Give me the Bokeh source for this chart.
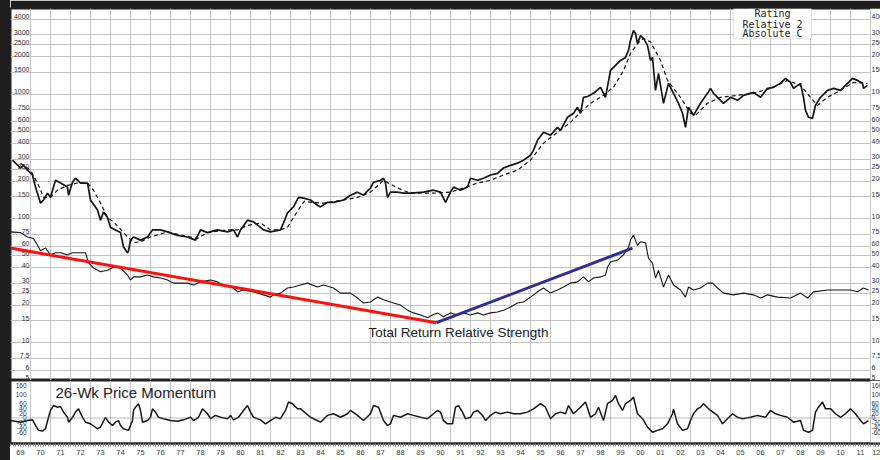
from bokeh.plotting import figure
from bokeh.layouts import column, row
from bokeh.models import ColumnDataSource, FixedTicker, Grid, Span, Range1d, BoxAnnotation, Label, Div
from bokeh.core.properties import value
from bokeh.embed import file_html
from bokeh.resources import INLINE

FONT = "Liberation Sans"
MONO = "DejaVu Sans Mono"

# ---------------- data ----------------
price_year = [1969.1, 1969.5, 1969.65, 1969.85, 1970.1, 1970.25, 1970.5, 1970.65, 1970.85, 1971.0,
              1971.25, 1971.5, 1971.85, 1971.9, 1972.1, 1972.25, 1972.5, 1972.85, 1973.0, 1973.35,
              1973.5, 1973.65, 1973.85, 1974.0, 1974.25, 1974.5, 1974.65, 1974.85, 1974.9, 1975.0,
              1975.15, 1975.5, 1975.85, 1976.1, 1976.5, 1976.85, 1977.35, 1977.85, 1978.25, 1978.5,
              1978.85, 1979.35, 1979.85, 1980.15, 1980.35, 1980.5, 1980.85, 1981.15, 1981.65, 1982.0,
              1982.5, 1982.65, 1982.85, 1983.15, 1983.4, 1983.65, 1984.0, 1984.35, 1984.5, 1984.85,
              1985.15, 1985.65, 1986.0, 1986.35, 1986.65, 1987.0, 1987.15, 1987.5, 1987.65, 1987.75,
              1987.85, 1988.0, 1988.35, 1988.65, 1989.0, 1989.65, 1990.15, 1990.5, 1990.75, 1991.0,
              1991.15, 1991.5, 1991.85, 1992.0, 1992.35, 1992.65, 1993.0, 1993.35, 1993.65, 1994.0,
              1994.35, 1994.65, 1995.0, 1995.15, 1995.35, 1995.65, 1996.0, 1996.35, 1996.5, 1996.85,
              1997.15, 1997.35, 1997.5, 1997.65, 1997.85, 1998.15, 1998.5, 1998.75, 1999.0, 1999.15,
              1999.5, 1999.75, 1999.9, 2000.0, 2000.15, 2000.25, 2000.35, 2000.5, 2000.65, 2000.85,
              2001.0, 2001.1, 2001.25, 2001.4, 2001.65, 2001.9, 2002.15, 2002.4, 2002.6, 2002.75,
              2002.9, 2003.15, 2003.5, 2003.85, 2004.0, 2004.15, 2004.5, 2004.65, 2005.0, 2005.35,
              2005.65, 2006.15, 2006.5, 2006.85, 2007.15, 2007.5, 2007.75, 2008.0, 2008.15, 2008.5,
              2008.65, 2008.75, 2008.9, 2009.1, 2009.25, 2009.5, 2009.85, 2010.15, 2010.5, 2010.85,
              2011.1, 2011.35, 2011.6, 2011.65, 2011.85]
price_val = [295, 255, 268, 245, 224, 179, 133, 141, 160, 148,
             203, 193, 179, 154, 196, 211, 193, 193, 141, 117,
             97, 113, 102, 85, 81, 77, 59, 53, 55, 67,
             71, 67, 71, 81, 81, 78, 73, 71, 67, 81,
             77, 81, 78, 81, 71, 81, 97, 94, 81, 78,
             81, 92, 111, 124, 148, 146, 141, 128, 124, 135,
             135, 141, 154, 163, 154, 176, 196, 203, 211, 193,
             148, 163, 163, 160, 160, 163, 169, 163, 135, 163,
             179, 169, 179, 211, 203, 211, 224, 231, 255, 268,
             279, 295, 323, 355, 426, 494, 468, 542, 513, 653,
             703, 785, 703, 945, 959, 1017, 1136, 945, 1556, 1645,
             1872, 1979, 2252, 2709, 3260, 3085, 2563, 2971, 2813, 2471,
             1872, 1979, 1075, 1472, 846, 1224, 1017, 846, 703, 542,
             785, 677, 846, 1017, 1115, 1017, 894, 846, 945, 894,
             980, 1035, 945, 1115, 1136, 1224, 1342, 1246, 1115, 1224,
             945, 742, 653, 640, 815, 945, 1075, 1115, 1075, 1224,
             1342, 1293, 1224, 1115, 1179]

ma_year = [1969.5, 1970.0, 1970.35, 1970.65, 1971.0, 1971.35, 1971.85, 1972.35, 1972.85, 1973.15,
           1973.5, 1973.85, 1974.15, 1974.65, 1975.15, 1975.5, 1976.0, 1976.85, 1977.65, 1978.35,
           1978.85, 1979.85, 1980.35, 1980.85, 1981.5, 1982.0, 1982.5, 1982.85, 1983.15, 1983.45,
           1983.7, 1984.0, 1984.65, 1985.65, 1986.35, 1987.0, 1987.65, 1988.35, 1989.0, 1990.15,
           1991.0, 1991.65, 1992.35, 1993.0, 1993.65, 1994.35, 1995.0, 1995.65, 1996.35, 1997.0,
           1997.5, 1998.0, 1998.5, 1999.15, 1999.65, 2000.0, 2000.35, 2000.65, 2001.0, 2001.5,
           2001.85, 2002.5, 2003.0, 2003.25, 2003.85, 2004.5, 2005.35, 2006.15, 2007.0, 2007.85,
           2008.5, 2009.0, 2009.35, 2009.85, 2010.5, 2011.15, 2011.85]
ma_val = [279, 245, 193, 148, 148, 169, 185, 193, 193, 169,
          133, 102, 94, 77, 64, 65, 71, 78, 73, 69,
          77, 81, 81, 88, 92, 81, 81, 85, 102, 121,
          138, 135, 133, 141, 148, 163, 203, 176, 160, 160,
          163, 176, 193, 203, 224, 245, 295, 404, 494, 594,
          714, 846, 945, 1136, 1556, 2131, 2563, 2813, 2641, 1872,
          1293, 945, 703, 677, 846, 945, 980, 1017, 1115, 1293,
          1179, 945, 815, 945, 1075, 1246, 1224]

rs_year = [1969.0, 1969.5, 1969.85, 1970.15, 1970.35, 1970.5, 1970.75, 1971.0, 1971.25, 1971.5,
           1971.85, 1972.1, 1972.35, 1972.75, 1972.9, 1973.15, 1973.5, 1973.85, 1974.15, 1974.5,
           1974.85, 1975.0, 1975.15, 1975.5, 1975.85, 1976.15, 1976.5, 1976.85, 1977.15, 1977.5,
           1977.85, 1978.15, 1978.5, 1979.0, 1979.35, 1979.65, 1980.15, 1980.35, 1980.65, 1981.15,
           1981.65, 1982.0, 1982.15, 1982.5, 1982.85, 1983.15, 1983.5, 1983.85, 1984.35, 1984.65,
           1985.15, 1985.5, 1986.0, 1986.35, 1986.65, 1987.0, 1987.35, 1987.65, 1988.15, 1988.5,
           1988.85, 1989.15, 1989.5, 1989.85, 1990.1, 1990.35, 1990.65, 1991.0, 1991.35, 1991.65,
           1992.0, 1992.35, 1992.65, 1993.0, 1993.35, 1993.65, 1994.0, 1994.35, 1994.65, 1995.0,
           1995.35, 1995.65, 1996.0, 1996.35, 1996.65, 1997.0, 1997.35, 1997.65, 1997.9, 1998.15,
           1998.5, 1998.75, 1998.85, 1999.0, 1999.35, 1999.65, 1999.9, 2000.0, 2000.15, 2000.35,
           2000.5, 2000.75, 2000.9, 2001.1, 2001.25, 2001.4, 2001.65, 2001.9, 2002.15, 2002.5,
           2002.75, 2002.9, 2003.15, 2003.5, 2003.85, 2004.1, 2004.35, 2004.65, 2005.15, 2005.65,
           2006.15, 2006.5, 2006.85, 2007.35, 2008.0, 2008.5, 2008.85, 2009.15, 2009.85, 2010.5,
           2011.0, 2011.35, 2011.65, 2011.9]
rs_val = [78, 77, 71, 69, 61, 55, 58, 51, 53, 53,
          51, 53, 53, 53, 44, 40, 37.3, 38.3, 40.5, 40,
          35.1, 32, 33.9, 33.9, 35.1, 33.9, 33.2, 32, 30.2, 30.2,
          30.2, 29.2, 30.9, 32, 30.9, 29.2, 27.6, 25.7, 26.6, 25.7,
          24.3, 23.3, 24.3, 25.1, 27.6, 28.1, 29.2, 30.2, 28.1, 29.2,
          27.6, 25.1, 25.1, 22.9, 20.9, 21.3, 23.3, 22.2, 20.9, 20.1,
          18.3, 17.4, 16.7, 15.9, 16.7, 17.4, 16.2, 17.4, 16.7, 17.4,
          16.7, 17.4, 16.7, 17.4, 17.7, 18.3, 19.4, 20.9, 21.3, 23.3,
          25.7, 27.6, 25.1, 26.6, 28.1, 30.2, 30.9, 33.9, 30.9, 33.2,
          33.9, 35.1, 40.5, 44.7, 46.3, 51.1, 58.6, 67.1, 73.5, 60.7,
          65, 63.9, 47.9, 43.7, 33.2, 38.3, 28.1, 35.1, 29.2, 26.6,
          23.3, 28.1, 26.6, 27.6, 30.2, 30.2, 27.6, 25.1, 24.3, 25.1,
          24.3, 22.9, 24.3, 23.3, 22.9, 25.1, 22.9, 25.7, 26.6, 26.6,
          26.6, 25.7, 27.6, 26.6]

trend_down_year = [1969.0, 1990.3]
trend_down_val = [57.8, 14.5]
trend_up_year = [1990.3, 2000.1]
trend_up_val = [14.5, 57.8]

mom_year = [1969.0, 1969.5, 1969.85, 1970.1, 1970.25, 1970.4, 1970.6, 1970.75, 1970.9, 1971.0,
            1971.15, 1971.35, 1971.5, 1971.65, 1971.85, 1971.9, 1972.1, 1972.25, 1972.4, 1972.6,
            1972.75, 1973.0, 1973.35, 1973.5, 1973.75, 1973.9, 1974.1, 1974.25, 1974.4, 1974.5,
            1974.65, 1974.9, 1975.1, 1975.15, 1975.25, 1975.4, 1975.5, 1975.6, 1975.85, 1976.0,
            1976.1, 1976.25, 1976.4, 1976.65, 1977.0, 1977.35, 1977.65, 1978.0, 1978.15, 1978.4,
            1978.6, 1978.85, 1979.0, 1979.25, 1979.5, 1979.85, 1980.0, 1980.15, 1980.4, 1980.65,
            1980.85, 1981.0, 1981.15, 1981.5, 1981.75, 1982.0, 1982.25, 1982.5, 1982.75, 1982.9,
            1983.1, 1983.35, 1983.5, 1984.0, 1984.5, 1984.85, 1985.15, 1985.5, 1985.85, 1986.0,
            1986.35, 1986.65, 1987.0, 1987.15, 1987.4, 1987.65, 1987.85, 1988.0, 1988.15, 1988.5,
            1988.85, 1989.15, 1989.5, 1989.85, 1990.15, 1990.35, 1990.5, 1990.65, 1990.85, 1991.1,
            1991.25, 1991.4, 1991.6, 1991.75, 1992.0, 1992.15, 1992.35, 1992.6, 1992.75, 1993.0,
            1993.25, 1993.5, 1993.85, 1994.15, 1994.5, 1994.85, 1995.15, 1995.5, 1995.75, 1996.0,
            1996.25, 1996.5, 1996.75, 1996.9, 1997.15, 1997.5, 1997.75, 1998.0, 1998.25, 1998.4,
            1998.65, 1998.85, 1999.1, 1999.25, 1999.4, 1999.6, 1999.75, 2000.0, 2000.15, 2000.35,
            2000.6, 2000.85, 2001.1, 2001.35, 2001.6, 2001.85, 2002.1, 2002.15, 2002.35, 2002.6,
            2002.85, 2003.0, 2003.15, 2003.35, 2003.5, 2003.65, 2004.0, 2004.35, 2004.6, 2004.85,
            2005.1, 2005.35, 2005.6, 2006.0, 2006.35, 2006.75, 2007.0, 2007.25, 2007.5, 2007.85,
            2008.15, 2008.5, 2008.65, 2008.9, 2009.1, 2009.25, 2009.4, 2009.6, 2009.75, 2010.0,
            2010.25, 2010.5, 2010.75, 2011.0, 2011.25, 2011.5, 2011.65, 2011.9]
mom_val = [-11, -18, -11, -8, -32, -53, -56, -46, 3, 32,
           53, 46, 49, 25, 3, -18, 3, 25, 39, 3,
           -18, -25, -46, -39, 3, -18, -32, -18, -11, -32,
           -46, -53, -11, 32, 46, 61, 32, -18, -11, 3,
           39, 25, 3, -3, -11, -14, -8, 3, -11, 3,
           39, 18, -3, 11, 3, -3, 11, -8, 3, 32,
           53, 25, 3, -8, -25, -11, 3, -3, 32, 68,
           61, 39, 39, 3, -18, 11, 18, 3, 18, 32,
           11, -11, 18, 53, 46, -11, -32, -25, 11, 3,
           18, 11, 3, -3, 18, 32, 25, -11, -25, -25,
           46, 53, 25, -3, 3, 25, 32, 11, -11, 11,
           25, 18, 25, 18, 18, 25, 39, 61, 46, -3,
           18, 25, 18, 53, 18, 46, 68, 3, 18, 46,
           -11, 61, 75, 96, 61, 32, 61, 75, 89, 18,
           -3, -39, -61, -53, -46, -25, 18, 39, -25, -53,
           -46, -11, 18, 39, 46, 61, 32, 11, -25, -3,
           18, 3, -3, 3, 11, 3, 32, 18, 11, 3,
           -18, -11, -53, -61, -53, 25, 46, 68, 39, 39,
           18, 3, 18, 39, 18, -11, -25, -11]

price_ticks = [4000, 3000, 2500, 2000, 1500, 1000, 750, 600, 500, 400, 300, 250, 200, 150,
               100, 75, 60, 50, 40, 30, 25, 20, 15, 10, 7.5, 6, 5]
price_tick_labels = ["4000", "3000", "2500", "2000", "1500", "1000", "750", "600", "500", "400",
                     "300", "250", "200", "150", "100", "75", "60", "50", "40", "30", "25", "20",
                     "15", "10", "7.5", "6", "5"]
mom_top_tick = [160]
mom_top_label = ["160"]
mom_ticks = [100, 60, 40, 20, 0, -20, -40, -60]
mom_tick_labels = ["100", "60", "40", "20", "0", "-20", "-40", "-60"]

years = list(range(1969, 2013))
year_labels = ["69", "70", "71", "72", "73", "74", "75", "76", "77", "78", "79", "80", "81",
               "82", "83", "84", "85", "86", "87", "88", "89", "90", "91", "92", "93", "94",
               "95", "96", "97", "98", "99", "00", "01", "02", "03", "04", "05", "06", "07",
               "08", "09", "10", "11", "12"]

rating_lines = ["Rating", "Relative 2", "Absolute C"]
rating_y = [4470, 3620, 3070]
rs_title = "Total Return Relative Strength"
mom_title = "26-Wk Price Momentum"

# ---------------- layout constants ----------------
X0, X1 = 1969.0, 2012.5
Y0, Y1 = 4.97, 4900
M0, M1 = -109, 160
LEFT_LAB_X = 1969.95
MOM_LEFT_LAB_X = 1969.8
RIGHT_LAB_X = 2012.05
COVER_X = 2012.03
GRID = "#c4c4c4"
INK = "#151515"
DARK = "#1e1e1e"

# ---------------- main (log) panel ----------------
p1 = figure(width=870, height=380, x_range=Range1d(X0, X1), y_range=Range1d(Y0, Y1),
            y_axis_type="log", x_axis_location=None, y_axis_location=None,
            toolbar_location=None, output_backend="svg",
            min_border_left=0, min_border_right=0, min_border_top=8, min_border_bottom=0,
            background_fill_color="white", border_fill_color=DARK,
            outline_line_color="#222222", outline_line_width=2)
p1.center = [r for r in p1.center if not isinstance(r, Grid)]
p1.add_layout(Grid(dimension=0, ticker=FixedTicker(ticks=years), grid_line_color=GRID, grid_line_width=1))
p1.add_layout(Grid(dimension=1, ticker=FixedTicker(ticks=price_ticks), grid_line_color=GRID, grid_line_width=1))

p1.line(ma_year, ma_val, line_color=INK, line_width=1.2, line_dash="4 3")
p1.line(price_year, price_val, line_color=INK, line_width=1.7)
p1.line(rs_year, rs_val, line_color=INK, line_width=1.1)
p1.line(trend_down_year, trend_down_val, line_color="#ff1010", line_width=3)
p1.line(trend_up_year, trend_up_val, line_color="#2e2e96", line_width=3)

# right label strip (white, outside the grid area)
p1.quad(left=[COVER_X], right=[X1 + 1], bottom=[Y0], top=[Y1], fill_color="white", line_color=None)

src_pl = ColumnDataSource(dict(x=[LEFT_LAB_X] * len(price_ticks), y=price_ticks, t=price_tick_labels))
src_pr = ColumnDataSource(dict(x=[RIGHT_LAB_X] * len(price_ticks), y=price_ticks, t=price_tick_labels))
p1.text(x="x", y="y", text="t", source=src_pl, text_align="right", text_baseline="bottom",
        text_font=value(FONT), text_font_size="7px", text_color="#333333")
p1.text(x="x", y="y", text="t", source=src_pr, text_align="left", text_baseline="bottom",
        text_font=value(FONT), text_font_size="7px", text_color="#333333")

p1.text(x=[1986.9], y=[12.0], text=[rs_title], text_align="left", text_baseline="middle",
        text_font=value(FONT), text_font_size="13.5px", text_color="#222222")

p1.add_layout(BoxAnnotation(left=2005.15, right=2009.05, bottom=2812, top=Y1,
                            fill_color="white", fill_alpha=1.0, line_color="#a8a8a8", line_width=1))
for txt, yy in zip(rating_lines, rating_y):
    p1.add_layout(Label(x=2007.1, y=yy, text=txt, text_align="center", text_baseline="middle",
                        text_font=MONO, text_font_size="10px", text_color="#222222"))

# ---------------- momentum panel ----------------
p2 = figure(width=870, height=80, x_range=p1.x_range, y_range=Range1d(M0, M1),
            x_axis_location="below", y_axis_location=None,
            toolbar_location=None, output_backend="svg",
            min_border_left=0, min_border_right=0, min_border_top=0, min_border_bottom=17,
            background_fill_color="white", border_fill_color="white",
            outline_line_color="#222222", outline_line_width=2)
p2.center = [r for r in p2.center if not isinstance(r, Grid)]
p2.add_layout(Grid(dimension=0, ticker=FixedTicker(ticks=years), grid_line_color=GRID, grid_line_width=1))
p2.add_layout(Span(location=0, dimension="width", line_color="#777777", line_width=1, line_dash="1 1"))

p2.line(mom_year, mom_val, line_color=INK, line_width=1.5)
p2.quad(left=[COVER_X], right=[X1 + 1], bottom=[M0], top=[M1], fill_color="white", line_color=None)

p2.text(x=[1971.25], y=[110], text=[mom_title], text_align="left", text_baseline="middle",
        text_font=value(FONT), text_font_size="15px", text_color="#222222")

for xx, al in ((MOM_LEFT_LAB_X, "right"), (RIGHT_LAB_X, "left")):
    p2.text(x=[xx] * len(mom_top_tick), y=mom_top_tick, text=mom_top_label, text_align=al,
            text_baseline="top", y_offset=2, text_font=value(FONT), text_font_size="6.5px",
            text_color="#333333")
    p2.text(x=[xx] * len(mom_ticks), y=mom_ticks, text=mom_tick_labels, text_align=al,
            text_baseline="middle", text_font=value(FONT), text_font_size="6.5px", text_color="#333333")

label_ticks = [y + 0.5 for y in years]
xa = p2.xaxis[0]
xa.ticker = FixedTicker(ticks=label_ticks, minor_ticks=[y + k / 8 for y in years for k in range(8)])
xa.major_label_overrides = {t: lab for t, lab in zip(label_ticks, year_labels)}
xa.major_tick_out = 0
xa.major_tick_in = 0
xa.minor_tick_out = 3
xa.minor_tick_in = 0
xa.minor_tick_line_color = "#8a8a8a"
xa.axis_line_color = "#222222"
xa.axis_line_width = 2
xa.major_label_standoff = 3
xa.major_label_text_font = FONT
xa.major_label_text_font_size = "7.5px"
xa.major_label_text_color = "#444444"

left_band = Div(text="", width=10, height=460, margin=0, styles={"background-color": DARK})
layout = row(left_band, column(p1, p2, spacing=0), spacing=0)
open("out.html", "w").write(file_html(layout, INLINE))
